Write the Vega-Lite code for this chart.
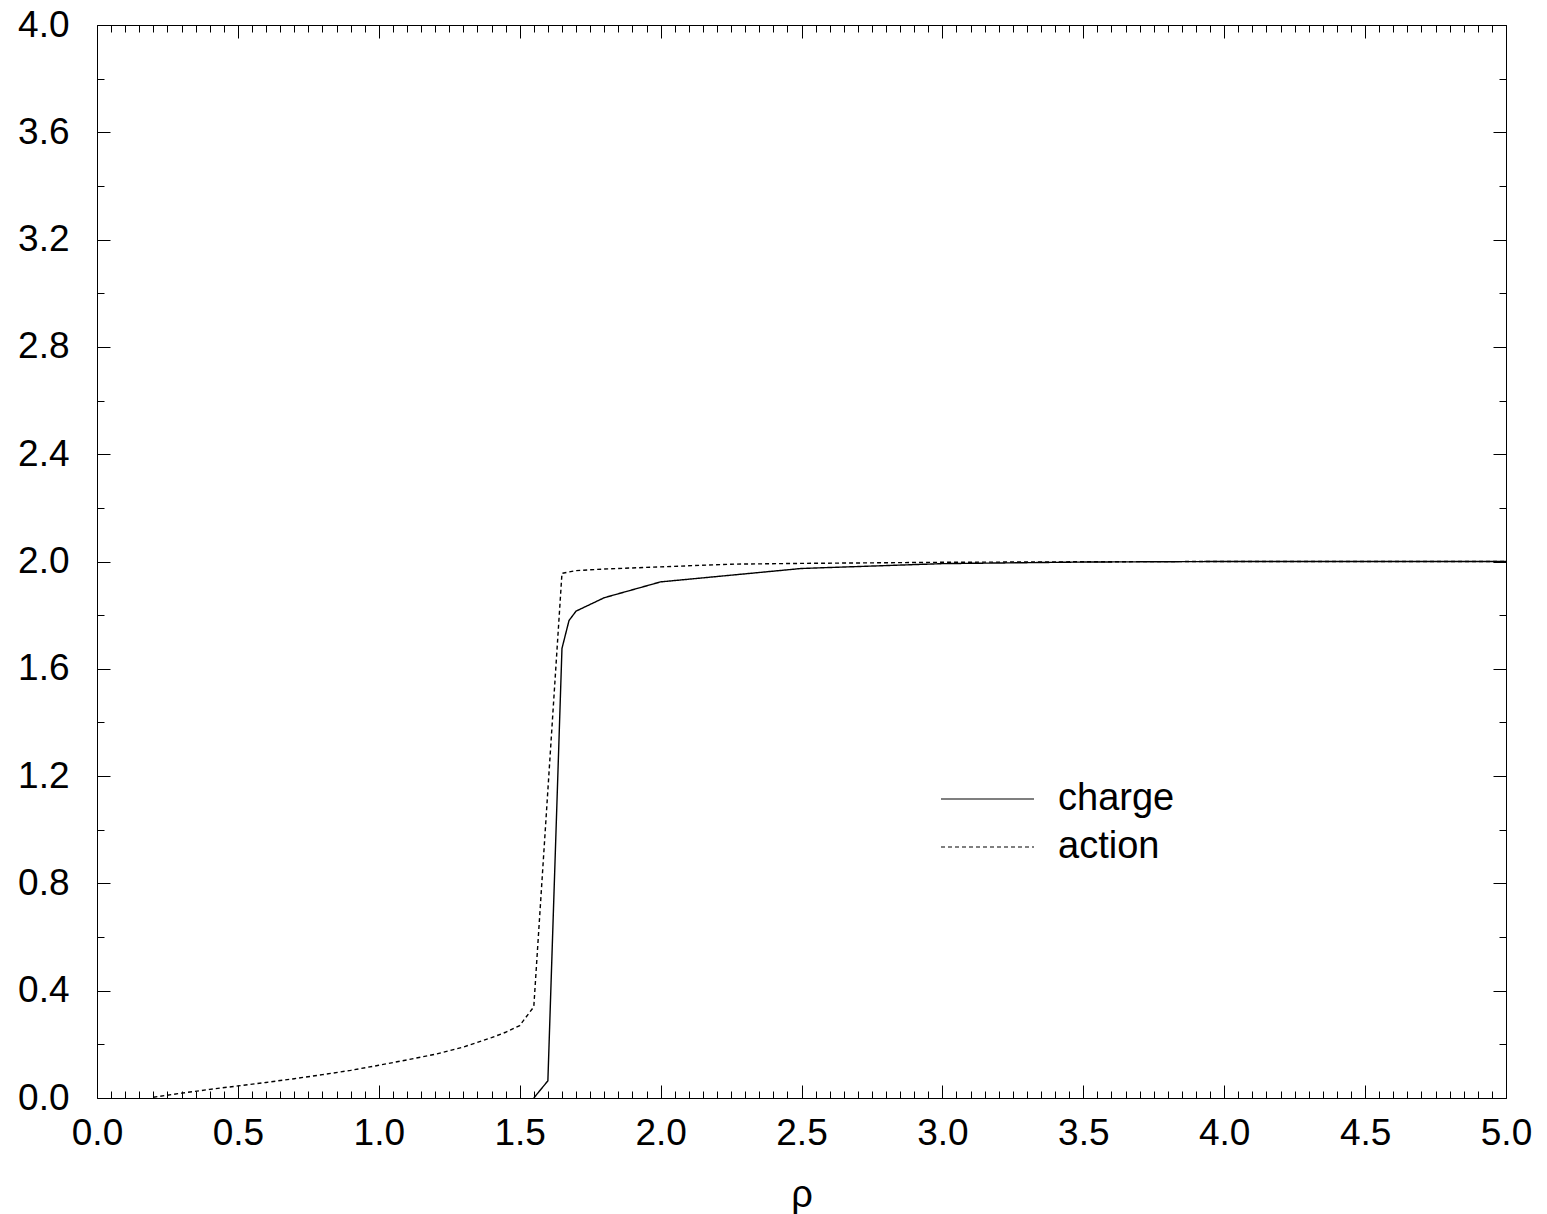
{
  "$schema": "https://vega.github.io/schema/vega-lite/v6.json",
  "autosize": {"type": "none"},
  "padding": {"left": 97, "top": 25, "right": 41, "bottom": 116},
  "width": 1409,
  "height": 1073,
  "background": "white",
  "config": {
    "view": {"stroke": null},
    "font": "Liberation Sans",
    "axis": {
      "domainColor": "black",
      "domainWidth": 1,
      "tickColor": "black",
      "tickWidth": 1,
      "grid": false,
      "labelFont": "Liberation Sans",
      "labelFontSize": 37,
      "labelColor": "black",
      "labelOverlap": false,
      "labelFlush": false,
      "labelBound": false,
      "titleFont": "Liberation Sans",
      "titleFontSize": 38,
      "titleFontWeight": "normal",
      "titleColor": "black"
    }
  },
  "data": {
    "values": [
      {"rho": 0.2, "value": 0.003, "series": "action"},
      {"rho": 0.3, "value": 0.018, "series": "action"},
      {"rho": 0.4, "value": 0.032, "series": "action"},
      {"rho": 0.5, "value": 0.045, "series": "action"},
      {"rho": 0.6, "value": 0.058, "series": "action"},
      {"rho": 0.7, "value": 0.072, "series": "action"},
      {"rho": 0.8, "value": 0.087, "series": "action"},
      {"rho": 0.9, "value": 0.103, "series": "action"},
      {"rho": 1.0, "value": 0.122, "series": "action"},
      {"rho": 1.1, "value": 0.142, "series": "action"},
      {"rho": 1.2, "value": 0.163, "series": "action"},
      {"rho": 1.3, "value": 0.19, "series": "action"},
      {"rho": 1.4, "value": 0.225, "series": "action"},
      {"rho": 1.45, "value": 0.245, "series": "action"},
      {"rho": 1.5, "value": 0.27, "series": "action"},
      {"rho": 1.55, "value": 0.34, "series": "action"},
      {"rho": 1.65, "value": 1.956, "series": "action"},
      {"rho": 1.7, "value": 1.966, "series": "action"},
      {"rho": 1.8, "value": 1.972, "series": "action"},
      {"rho": 2.0, "value": 1.98, "series": "action"},
      {"rho": 2.25, "value": 1.99, "series": "action"},
      {"rho": 2.5, "value": 1.993, "series": "action"},
      {"rho": 3.0, "value": 1.997, "series": "action"},
      {"rho": 3.5, "value": 1.999, "series": "action"},
      {"rho": 4.0, "value": 2.0, "series": "action"},
      {"rho": 5.0, "value": 2.0, "series": "action"},
      {"rho": 1.55, "value": 0.0, "series": "charge"},
      {"rho": 1.6, "value": 0.064, "series": "charge"},
      {"rho": 1.65, "value": 1.676, "series": "charge"},
      {"rho": 1.675, "value": 1.78, "series": "charge"},
      {"rho": 1.7, "value": 1.815, "series": "charge"},
      {"rho": 1.8, "value": 1.865, "series": "charge"},
      {"rho": 2.0, "value": 1.924, "series": "charge"},
      {"rho": 2.5, "value": 1.974, "series": "charge"},
      {"rho": 3.0, "value": 1.992, "series": "charge"},
      {"rho": 3.5, "value": 1.998, "series": "charge"},
      {"rho": 4.0, "value": 2.0, "series": "charge"},
      {"rho": 5.0, "value": 2.0, "series": "charge"}
    ]
  },
  "resolve": {"axis": {"x": "independent", "y": "independent"}},
  "layer": [
    {
      "mark": {"type": "line", "color": "black", "strokeWidth": 1.4},
      "encoding": {
        "x": {
          "field": "rho", "type": "quantitative",
          "scale": {"domain": [0, 5], "nice": false, "zero": false},
          "axis": {
            "orient": "bottom",
            "title": "ρ",
            "titlePadding": 25,
            "tickSize": -13,
            "labelPadding": 30,
            "values": [0,0.05,0.1,0.15,0.2,0.25,0.3,0.35,0.4,0.45,0.5,0.55,0.6,0.65,0.7,0.75,0.8,0.85,0.9,0.95,1,1.05,1.1,1.15,1.2,1.25,1.3,1.35,1.4,1.45,1.5,1.55,1.6,1.65,1.7,1.75,1.8,1.85,1.9,1.95,2,2.05,2.1,2.15,2.2,2.25,2.3,2.35,2.4,2.45,2.5,2.55,2.6,2.65,2.7,2.75,2.8,2.85,2.9,2.95,3,3.05,3.1,3.15,3.2,3.25,3.3,3.35,3.4,3.45,3.5,3.55,3.6,3.65,3.7,3.75,3.8,3.85,3.9,3.95,4,4.05,4.1,4.15,4.2,4.25,4.3,4.35,4.4,4.45,4.5,4.55,4.6,4.65,4.7,4.75,4.8,4.85,4.9,4.95,5],
            "labelExpr": "abs(datum.value*2-round(datum.value*2))<0.001 ? format(datum.value,'.1f') : ''",
            "tickDash": {"condition": {"test": "abs(datum.value*2-round(datum.value*2))<0.001", "value": [20, 0]}, "value": [7, 30]}
          }
        },
        "y": {
          "field": "value", "type": "quantitative",
          "scale": {"domain": [0, 4], "nice": false},
          "axis": {
            "orient": "left",
            "title": null,
            "tickSize": -13,
            "labelPadding": 41,
            "values": [0,0.2,0.4,0.6,0.8,1,1.2,1.4,1.6,1.8,2,2.2,2.4,2.6,2.8,3,3.2,3.4,3.6,3.8,4],
            "labelExpr": "abs(datum.value/0.4-round(datum.value/0.4))<0.001 ? format(datum.value,'.1f') : ''",
            "tickDash": {"condition": {"test": "abs(datum.value/0.4-round(datum.value/0.4))<0.001", "value": [20, 0]}, "value": [7, 30]}
          }
        },
        "strokeDash": {
          "field": "series", "type": "nominal",
          "scale": {"domain": ["charge", "action"], "range": [[1, 0], [4, 3]]},
          "legend": {
            "orient": "none",
            "legendX": 843,
            "legendY": 755,
            "title": null,
            "padding": 0,
            "symbolType": "stroke",
            "symbolSize": 8649,
            "symbolStrokeWidth": 1.2,
            "symbolStrokeColor": "black",
            "labelFont": "Liberation Sans",
            "labelFontSize": 38,
            "labelColor": "black",
            "labelOffset": 23,
            "clipHeight": 38,
            "rowPadding": 10
          }
        }
      }
    },
    {
      "mark": {"type": "line", "opacity": 0},
      "encoding": {
        "x": {
          "field": "rho", "type": "quantitative",
          "axis": {
            "orient": "top",
            "title": null,
            "labels": false,
            "tickSize": -13,
            "values": [0,0.05,0.1,0.15,0.2,0.25,0.3,0.35,0.4,0.45,0.5,0.55,0.6,0.65,0.7,0.75,0.8,0.85,0.9,0.95,1,1.05,1.1,1.15,1.2,1.25,1.3,1.35,1.4,1.45,1.5,1.55,1.6,1.65,1.7,1.75,1.8,1.85,1.9,1.95,2,2.05,2.1,2.15,2.2,2.25,2.3,2.35,2.4,2.45,2.5,2.55,2.6,2.65,2.7,2.75,2.8,2.85,2.9,2.95,3,3.05,3.1,3.15,3.2,3.25,3.3,3.35,3.4,3.45,3.5,3.55,3.6,3.65,3.7,3.75,3.8,3.85,3.9,3.95,4,4.05,4.1,4.15,4.2,4.25,4.3,4.35,4.4,4.45,4.5,4.55,4.6,4.65,4.7,4.75,4.8,4.85,4.9,4.95,5],
            "tickDash": {"condition": {"test": "abs(datum.value*2-round(datum.value*2))<0.001", "value": [20, 0]}, "value": [7, 30]}
          }
        },
        "y": {
          "field": "value", "type": "quantitative",
          "axis": {
            "orient": "right",
            "title": null,
            "labels": false,
            "tickSize": -13,
            "values": [0,0.2,0.4,0.6,0.8,1,1.2,1.4,1.6,1.8,2,2.2,2.4,2.6,2.8,3,3.2,3.4,3.6,3.8,4],
            "tickDash": {"condition": {"test": "abs(datum.value/0.4-round(datum.value/0.4))<0.001", "value": [20, 0]}, "value": [7, 30]}
          }
        },
        "detail": {"field": "series", "type": "nominal"}
      }
    }
  ]
}
